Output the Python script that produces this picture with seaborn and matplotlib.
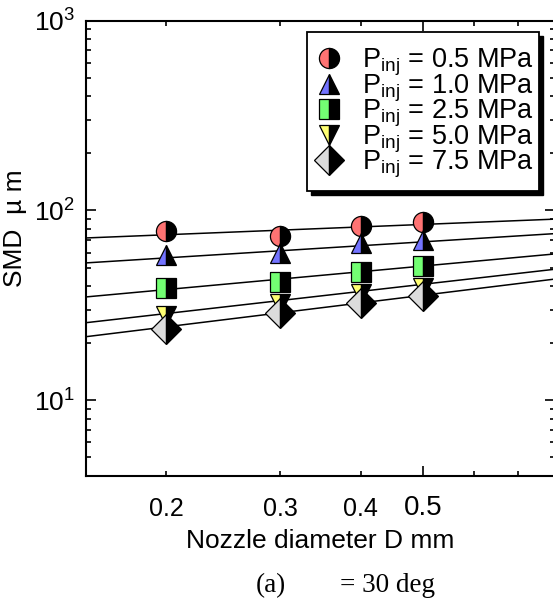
import matplotlib
matplotlib.use("Agg")
import matplotlib.pyplot as plt
from matplotlib.lines import Line2D
from matplotlib.patches import Rectangle
from matplotlib.ticker import FixedLocator, NullFormatter, FixedFormatter, LogLocator
import seaborn as sns
import pandas as pd

# ---- data ----
diameters = [0.2, 0.3, 0.4, 0.5]
smd_05 = [77.5, 73.6, 83.0, 86.5]
smd_10 = [58.4, 59.7, 67.0, 70.1]
smd_25 = [38.9, 42.2, 47.6, 51.0]
smd_50 = [27.8, 32.0, 36.1, 39.2]
smd_75 = [23.8, 28.7, 32.6, 35.6]

# fitted power-law lines (end values at the axis limits)
fit_x = [0.15, 0.8]
fit_05 = [71.6, 90.0]
fit_10 = [52.9, 75.5]
fit_25 = [35.0, 59.0]
fit_50 = [25.6, 49.0]
fit_75 = [21.6, 43.5]

labels = [r"$\mathregular{P_{inj}}$ = 0.5 MPa", r"$\mathregular{P_{inj}}$ = 1.0 MPa",
          r"$\mathregular{P_{inj}}$ = 2.5 MPa", r"$\mathregular{P_{inj}}$ = 5.0 MPa",
          r"$\mathregular{P_{inj}}$ = 7.5 MPa"]
series = [smd_05, smd_10, smd_25, smd_50, smd_75]
fits = [fit_05, fit_10, fit_25, fit_50, fit_75]
markers = ["o", "^", "s", "v", "D"]
msizes = [14.5, 15, 14, 15, 15]
colors = ["#ff7373", "#7373ff", "#73ff73", "#ffff73", "#dcdcdc"]

sns.set_theme(style="ticks")
plt.rcParams["font.family"] = ["Liberation Sans", "DejaVu Sans"]
plt.rcParams["mathtext.fontset"] = "custom"
plt.rcParams["mathtext.rm"] = "Liberation Sans"
plt.rcParams["mathtext.it"] = "Liberation Sans:italic"
plt.rcParams["mathtext.bf"] = "Liberation Sans:bold"
for k in ["text.color", "axes.labelcolor", "xtick.color", "ytick.color", "axes.edgecolor"]:
    plt.rcParams[k] = "black"

W, H = 553, 608
fx = lambda px: px / W
fy = lambda py: 1 - py / H

fig = plt.figure(figsize=(W / 100, H / 100), dpi=100)
left, right, top, bottom = 85.7, 555.0, 20.7, 475.7
ax = fig.add_axes([fx(left), fy(bottom), (right - left) / W, (bottom - top) / H])
ax.set_xscale("log")
ax.set_yscale("log")

for fyv in fits:
    df = pd.DataFrame({"x": fit_x, "y": fyv})
    sns.lineplot(data=df, x="x", y="y", ax=ax, color="black", linewidth=1.1, zorder=2)

marker_kws = []
for ys, m, ms, c in zip(series, markers, msizes, colors):
    df = pd.DataFrame({"x": diameters, "y": ys})
    kw = dict(marker=m, markersize=ms, fillstyle="left", markerfacecolor=c,
              markerfacecoloralt="black", markeredgecolor="black", markeredgewidth=0.9)
    sns.lineplot(data=df, x="x", y="y", ax=ax, linestyle="none", color="black", zorder=3, **kw)
    marker_kws.append(kw)

ax.set_xlim(0.15, 0.8)
ax.set_ylim(4, 1000)

# ticks
ax.xaxis.set_major_locator(FixedLocator([0.5]))
ax.xaxis.set_major_formatter(FixedFormatter(["0.5"]))
ax.xaxis.set_minor_locator(FixedLocator([0.2, 0.3, 0.4, 0.6, 0.7]))
ax.xaxis.set_minor_formatter(FixedFormatter(["0.2", "0.3", "0.4", "", ""]))
ax.yaxis.set_major_locator(LogLocator(base=10, numticks=10))
ax.yaxis.set_minor_locator(LogLocator(base=10, subs=range(2, 10), numticks=10))
ax.yaxis.set_minor_formatter(NullFormatter())

ax.tick_params(which="both", direction="in", top=True, right=True, width=1.2, colors="black")
ax.tick_params(which="major", length=7.5)
ax.tick_params(which="minor", length=3.8)
ax.tick_params(axis="x", which="major", labelsize=20, pad=14)
ax.tick_params(axis="x", which="minor", labelsize=18, pad=15)
ax.tick_params(axis="y", which="major", labelsize=19, pad=8)
for sp in ax.spines.values():
    sp.set_linewidth(1.5)
    sp.set_color("black")

ax.set_xlabel("Nozzle diameter D mm", fontsize=19, labelpad=6)
ax.set_ylabel("SMD  µ m", fontsize=19)
ax.yaxis.set_label_coords(-0.125, 0.545)

# ---- legend box (drawn by hand to keep the tight row pitch) ----
bx0, by0, bx1, by1 = 307, 32, 539, 191
fig.add_artist(Rectangle((fx(bx0 + 4), fy(by1 + 4)), (bx1 - bx0) / W, (by1 - by0) / H,
                         transform=fig.transFigure, facecolor="black", edgecolor="black",
                         linewidth=1.0, zorder=5))
fig.add_artist(Rectangle((fx(bx0), fy(by1)), (bx1 - bx0) / W, (by1 - by0) / H,
                         transform=fig.transFigure, facecolor="white", edgecolor="black",
                         linewidth=1.3, zorder=6))
row_y = [58, 83.5, 109, 134.5, 160]
for kw, ry in zip(marker_kws, row_y):
    fig.add_artist(Line2D([fx(329)], [fy(ry)], transform=fig.transFigure, linestyle="none",
                          zorder=7, **kw))

leg_fs = 19.5
leg_text = fig.text(fx(362), fy(40), "\n".join(labels), fontsize=leg_fs, ha="left", va="top",
                    linespacing=0.8, zorder=8)
pitch = (row_y[-1] - row_y[0]) / (len(row_y) - 1)
cap_h = 0.716 * leg_fs * 100 / 72
try:
    renderer = fig.canvas.get_renderer()

    def baselines(ls):
        leg_text.set_linespacing(ls)
        _, info, _ = leg_text._get_layout(renderer)
        return [e[-1] for e in info]

    b_a = baselines(1.0)
    b_b = baselines(0.5)
    p_a = b_a[0] - b_a[1]
    p_b = b_b[0] - b_b[1]
    ls = 0.5 + (pitch - p_b) * 0.5 / (p_a - p_b)
    b = baselines(ls)
    first_base = row_y[0] + cap_h / 2  # px from top
    leg_text.set_position((fx(362), fy(first_base + b[0])))
except Exception:
    leg_text.set_linespacing(0.8)
    leg_text.set_position((fx(362), fy(38)))

fig.text(fx(256), fy(592), "(a)", fontsize=19.5, family=["Liberation Serif"], va="baseline", ha="left")
fig.text(fx(340), fy(592), "= 30 deg", fontsize=19.5, family=["Liberation Serif"], va="baseline", ha="left")

fig.savefig("out.png", dpi=100)
